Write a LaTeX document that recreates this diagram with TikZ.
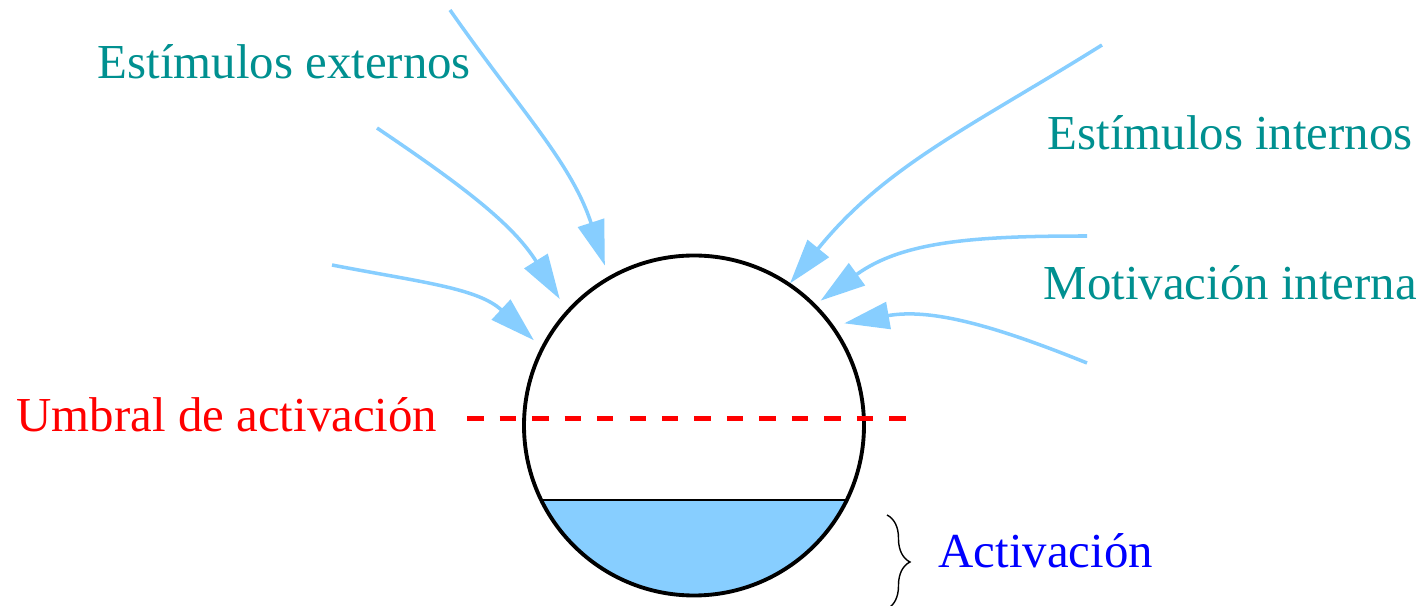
\documentclass[tikz,border=0pt]{standalone}
\usepackage{fontspec}
\setmainfont{Liberation Serif}
\usepackage{tikz}
\usetikzlibrary{arrows.meta,calc,decorations.pathreplacing}
\definecolor{FigLtBlue}{RGB}{135,206,255}
\definecolor{FigCyan}{RGB}{0,144,144}
\definecolor{FigRed}{RGB}{255,0,0}
\definecolor{FigBlue}{RGB}{0,0,255}
\tikzset{
  >={Triangle[length=4.5mm, width=2.7mm]},
  tank/.style={circle, draw=black, line width=1.1pt,
    minimum size=3.40cm, inner sep=0pt, outer sep=0pt},
  water/.style={fill=FigLtBlue},
  stimulus/.style={draw=FigLtBlue, ->, line width=1.0pt},
  threshold/.style={draw=FigRed, line width=1.4pt,
    dash pattern=on 0.165cm off 0.16cm},
  cue/.style={anchor=base west, inner sep=0pt,
    font=\fontsize{13.9}{16}\selectfont},
  incue/.style={cue, text=FigCyan}
}

\begin{document}
\begin{tikzpicture}

\useasboundingbox (0,0) rectangle (14.22,6.06);

\coordinate (c) at (6.94,1.805);

\fill[water] ($(c)+(206:1.70)$) arc[start angle=206, end angle=334, radius=1.70] -- cycle;
\node[tank] (tank) at (c) {};
\draw[line width=0.35pt] ($(c)+(206:1.70)$) -- ($(c)+(334:1.70)$);

\draw[threshold] (4.67,1.873) -- (9.06,1.873);

\node[incue] (externos) at (0.97,5.27) {Estímulos externos};
\node[incue] (internos) at (10.47,4.56) {Estímulos internos};
\node[incue] (motivacion) at (10.43,3.06) {Motivación interna};
\node[cue, text=FigRed] (umbral) at (0.16,1.74) {Umbral de activación};
\node[cue, text=FigBlue] (activacion) at (9.38,0.38) {Activación};

\coordinate (s1) at (4.50,5.96);
\coordinate (s2) at (3.77,4.78);
\coordinate (s3) at (3.32,3.41);
\coordinate (s4) at (11.02,5.61);
\coordinate (s5) at (10.87,3.70);
\coordinate (s6) at (10.87,2.43);

\draw[stimulus, shorten >=0.134cm] (s1) to[out=-55, in=108] (tank.120.8);
\draw[stimulus, shorten >=0.149cm] (s2) to[out=-34, in=122] (tank.138.3);
\draw[stimulus, shorten >=0.118cm] (s3) to[out=-11, in=137] (tank.153.7);
\draw[stimulus, shorten >=0.015cm] (s4) to[out=212, in=51]  (tank.56.8);
\draw[stimulus, shorten >=0.079cm] (s5) to[out=180, in=36]  (tank.45.8);
\draw[stimulus, shorten >=0.129cm] (s6) to[out=158, in=10]  (tank.36.0);

\draw[line width=0.4pt, decorate, decoration={brace, amplitude=0.23cm}]
  (8.87,0.91) -- (8.87,-0.03);

\end{tikzpicture}
\end{document}
